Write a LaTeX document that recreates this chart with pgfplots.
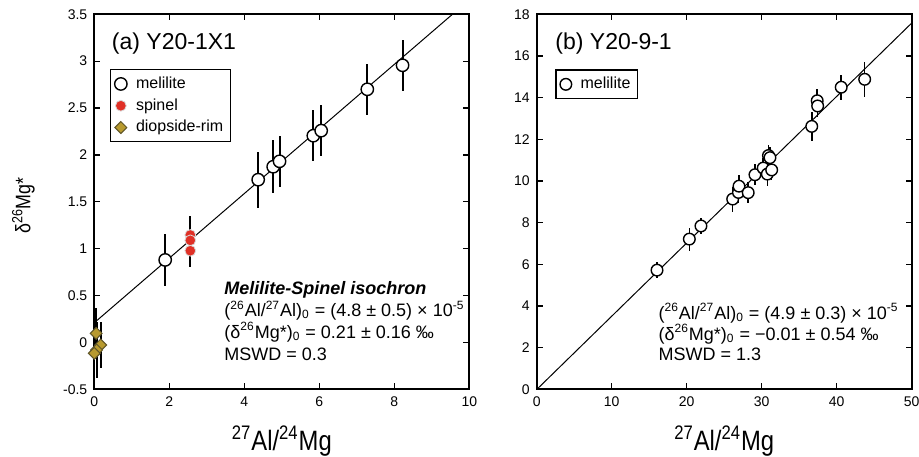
\documentclass[border=0pt]{standalone}
\usepackage{fontspec}
\setmainfont{Liberation Sans}
\newfontfamily\narrow[FakeStretch=0.85]{Liberation Sans}
\usepackage{pgfplots}
\pgfplotsset{compat=1.18}

\definecolor{spinelred}{RGB}{224,48,38}
\definecolor{diopside}{RGB}{184,154,46}
\definecolor{diopedge}{RGB}{95,85,40}

\pgfplotsset{
  panel/.style={
    scale only axis,
    width=187.5pt, height=187.5pt,
    axis line style={line width=1pt},
    tick align=inside,
    major tick length=3pt,
    tick style={line width=0.6pt, black},
    tick label style={font=\fontsize{7}{8}\selectfont},
    /pgf/number format/assume math mode=true,
    xlabel style={at={(axis description cs:0.5,0)}, anchor=base, yshift=-30.4pt,
      font=\narrow\fontsize{14}{16}\selectfont},
    legend cell align=left,
    legend style={anchor=north west, font=\fontsize{8}{10}\selectfont,
      draw=black, line width=0.6pt, inner xsep=2pt, inner ysep=2pt,
      row sep=0.6pt, nodes={inner sep=1.5pt}},
    clip=true,
  },
  ebars/.style={
    error bars/y dir=both, error bars/y explicit, error bars/error mark=none,
    error bars/error bar style={line width=#1, black}},
  melilite/.style={only marks, mark=*, mark size=3.1pt,
    mark options={fill=white, draw=black, line width=0.7pt}},
}

\begin{document}
\begin{tikzpicture}
% left panel
\begin{axis}[panel,
  at={(0pt,0pt)}, anchor=south west,
  xmin=0, xmax=10, ymin=-0.5, ymax=3.5,
  xtick={0,2,...,10}, ytick={-0.5,0,...,3.5},
  yticklabels={-0.5,0,0.5,1,1.5,2,2.5,3,3.5},
  xlabel={\textsuperscript{27}Al/\textsuperscript{24}Mg},
  ylabel={δ\textsuperscript{26}Mg*},
  ylabel style={at={(axis description cs:0,0.49)}, anchor=base, yshift=32pt,
    font=\narrow\fontsize{10.5}{12}\selectfont},
  legend style={at={(rel axis cs:0.042,0.854)}},
]
\addplot[black, line width=0.5pt, forget plot] coordinates {(0,0.21) (9.55,3.5)};
\addplot[melilite, ebars=1pt] table[y error index=2] {
x y ey
1.89 0.880 0.28
4.37 1.736 0.30
4.77 1.874 0.28
4.94 1.932 0.27
5.84 2.205 0.27
6.05 2.259 0.27
7.28 2.700 0.27
8.22 2.956 0.27
};
\addlegendentry{\hspace{3pt}melilite}
\addplot[only marks, mark=*, mark size=2.7pt,
  mark options={fill=spinelred, draw=white!85!black, line width=0.4pt},
  ebars=1pt] table[y error index=2] {
x y ey
2.56 1.146 0.20
2.56 1.089 0.20
2.56 0.978 0.17
};
\addlegendentry{\hspace{3pt}spinel}
\addplot[only marks, mark=square*, mark size=2.1pt,
  mark options={rotate=45, fill=diopside, draw=diopedge, line width=0.5pt},
  ebars=1pt] table[y error index=2] {
x y ey
0.05 0.097 0.27
0.17 -0.028 0.25
0.06 -0.081 0.30
0.00 -0.116 0.27
};
\addlegendentry{\hspace{3pt}diopside-rim}
\node[anchor=west, font=\fontsize{11.5}{13}\selectfont, inner sep=0pt]
  at (rel axis cs:0.046,0.923) {(a) Y20-1X1};
\node[anchor=base west, font=\bfseries\itshape\fontsize{9}{11}\selectfont, inner sep=0pt]
  at (rel axis cs:0.346,0.2515) {Melilite-Spinel isochron};
\node[anchor=base west, font=\fontsize{9}{11}\selectfont, inner sep=0pt]
  at (rel axis cs:0.346,0.1936) {(\textsuperscript{26}Al/\textsuperscript{27}Al)\textsubscript{0} = (4.8 ± 0.5) × 10\textsuperscript{-5}};
\node[anchor=base west, font=\fontsize{9}{11}\selectfont, inner sep=0pt]
  at (rel axis cs:0.346,0.136) {(δ\textsuperscript{26}Mg*)\textsubscript{0} = 0.21 ± 0.16 ‰};
\node[anchor=base west, font=\fontsize{9}{11}\selectfont, inner sep=0pt]
  at (rel axis cs:0.346,0.078) {MSWD = 0.3};
\end{axis}

% right panel
\begin{axis}[panel,
  at={(221.2pt,0pt)}, anchor=south west,
  xmin=0, xmax=50, ymin=0, ymax=18,
  xtick={0,10,...,50}, ytick={0,2,...,18},
  xlabel={\textsuperscript{27}Al/\textsuperscript{24}Mg},
  legend style={at={(rel axis cs:0.05,0.853)}},
]
\addplot[black, line width=0.5pt, forget plot] coordinates {(0,-0.01) (50,17.58)};
\addplot[melilite, mark size=2.9pt, ebars=0.8pt] table[y error index=2] {
x y ey
16.04 5.72 0.40
20.35 7.21 0.55
21.90 7.84 0.40
26.13 9.13 0.60
26.90 9.45 0.50
26.97 9.75 0.55
28.20 9.44 0.50
29.10 10.30 0.50
30.20 10.62 0.50
30.75 10.33 0.55
31.33 10.53 0.50
30.90 11.22 0.50
31.10 11.12 0.50
36.67 12.62 0.70
37.40 13.85 0.55
37.46 13.60 0.55
40.60 14.50 0.60
43.73 14.88 0.84
};
\addlegendentry{\hspace{3pt}melilite}
\node[anchor=west, font=\fontsize{11.5}{13}\selectfont, inner sep=0pt]
  at (rel axis cs:0.049,0.923) {(b) Y20-9-1};
\node[anchor=base west, font=\fontsize{9}{11}\selectfont, inner sep=0pt]
  at (rel axis cs:0.324,0.187) {(\textsuperscript{26}Al/\textsuperscript{27}Al)\textsubscript{0} = (4.9 ± 0.3) × 10\textsuperscript{-5}};
\node[anchor=base west, font=\fontsize{9}{11}\selectfont, inner sep=0pt]
  at (rel axis cs:0.324,0.131) {(δ\textsuperscript{26}Mg*)\textsubscript{0} = −0.01 ± 0.54 ‰};
\node[anchor=base west, font=\fontsize{9}{11}\selectfont, inner sep=0pt]
  at (rel axis cs:0.324,0.078) {MSWD = 1.3};
\end{axis}

\pgfresetboundingbox
\path[use as bounding box] (-47.15pt,-33.35pt) rectangle (412.35pt,194.65pt);
\end{tikzpicture}
\end{document}
